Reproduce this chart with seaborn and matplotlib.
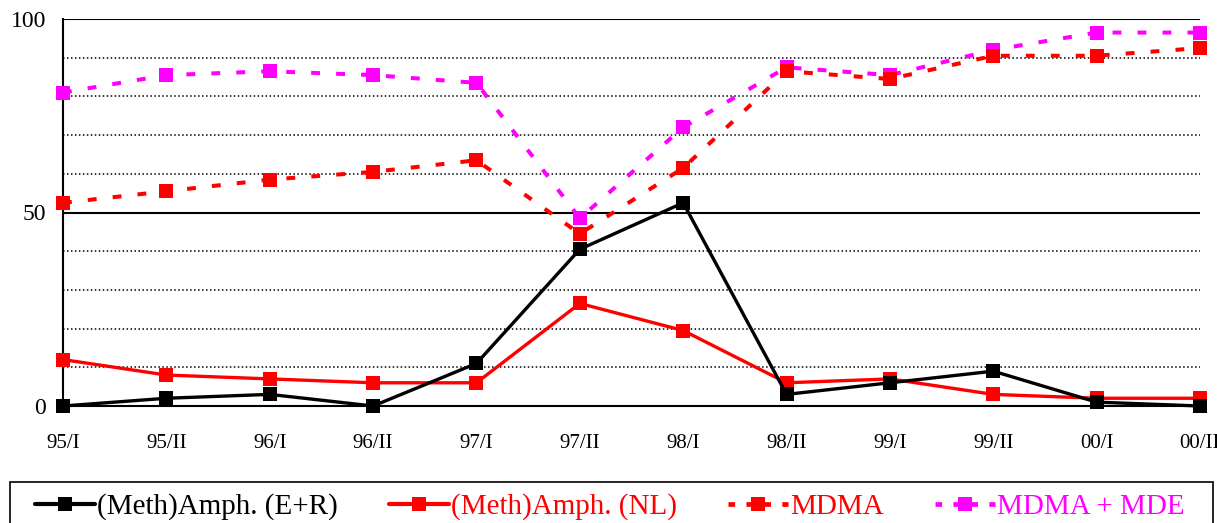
import numpy as np
import pandas as pd
import matplotlib
matplotlib.use("Agg")
import matplotlib.pyplot as plt
import seaborn as sns
from matplotlib.lines import Line2D
from matplotlib.patches import Rectangle

# Dati
periods = ["95/I", "95/II", "96/I", "96/II", "97/I", "97/II",
           "98/I", "98/II", "99/I", "99/II", "00/I", "00/II"]
amph_er = [0, 2, 3, 0, 11, 40.5, 52.5, 3, 6, 9, 1, 0]
amph_nl = [12, 8, 7, 6, 6, 26.5, 19.5, 6, 7, 3, 2, 2]
mdma = [52.5, 55.5, 58.5, 60.5, 63.5, 44.5, 61.5, 86.5, 84.5, 90.5, 90.5, 92.5]
mdma_mde = [81, 85.5, 86.5, 85.5, 83.5, 48.5, 72, 87.5, 85.5, 92, 96.5, 96.5]

series = [
    ("(Meth)Amph. (E+R)", amph_er, "black", "-"),
    ("(Meth)Amph. (NL)", amph_nl, "#ff0000", "-"),
    ("MDMA", mdma, "#ff0000", (0, (2.2, 4.0))),
    ("MDMA + MDE", mdma_mde, "#ff00ff", (0, (2.2, 4.0))),
]

sns.set_style("white")
plt.rcParams["font.family"] = ["Liberation Serif", "DejaVu Serif"]

fig = plt.figure(figsize=(12.17, 5.23), dpi=100)
ax = fig.add_axes([63 / 1217, 117 / 523, 1137 / 1217, 387 / 523])

x = np.arange(len(periods))

# griglia
for g in range(10, 100, 10):
    if g == 50:
        ax.axhline(g, color="black", lw=1.5, zorder=1)
    else:
        ax.axhline(g, color="black", lw=1.1, ls=(0, (1, 1.6)), zorder=1)
ax.axhline(100, color="black", lw=1.5, zorder=1)

# ordine di disegno: magenta sotto, poi MDMA, poi le linee piene
for name, vals, col, ls in [series[3], series[2], series[1], series[0]]:
    df = pd.DataFrame({"x": x, "y": vals})
    lw = 2.4 if ls == "-" else 2.9
    sns.lineplot(data=df, x="x", y="y", ax=ax, color=col, linestyle=ls,
                 lw=lw, marker="s", markersize=10, markeredgewidth=0,
                 clip_on=False, zorder=3)

ax.set_xlim(0, 11)
ax.set_ylim(0, 100)
ax.set_xticks(x)
ax.set_xticklabels(periods, fontsize=15)
ax.set_yticks([0, 50, 100])
ax.set_yticklabels(["0", "50", "100"], fontsize=17)
ax.set_xlabel("")
ax.set_ylabel("")

for s in ["top", "right"]:
    ax.spines[s].set_visible(False)
for s in ["left", "bottom"]:
    ax.spines[s].set_color("black")
    ax.spines[s].set_linewidth(1.5)
ax.tick_params(axis="x", direction="inout", length=12, width=1, pad=14, colors="black")
ax.tick_params(axis="y", direction="out", length=8, width=1.5, pad=4, colors="black")
for lab in ax.get_xticklabels() + ax.get_yticklabels():
    lab.set_color("black")

# legenda
handles = []
for name, vals, col, ls in series:
    lw = 3.0 if ls == "-" else 3.4
    hls = ls if ls == "-" else (0, (1.4, 2.4))
    handles.append(Line2D([], [], color=col, linestyle=hls, lw=lw, marker="s",
                          markersize=10, markeredgewidth=0))
leg = fig.legend(handles, [s[0] for s in series], loc="center left",
                 bbox_to_anchor=(35 / 1217, 16 / 523),
                 ncol=4, frameon=False, fontsize=21, handlelength=2.05,
                 handletextpad=0.08, borderaxespad=0, borderpad=0,
                 columnspacing=1.75)
for txt, s in zip(leg.get_texts(), series):
    txt.set_color(s[2])
fig.patches.append(Rectangle((10 / 1217, -0.02), 1203 / 1217, 41 / 523 + 0.02,
                             transform=fig.transFigure, fill=False,
                             edgecolor="black", lw=1.2))

fig.savefig("out.png", dpi=100)
